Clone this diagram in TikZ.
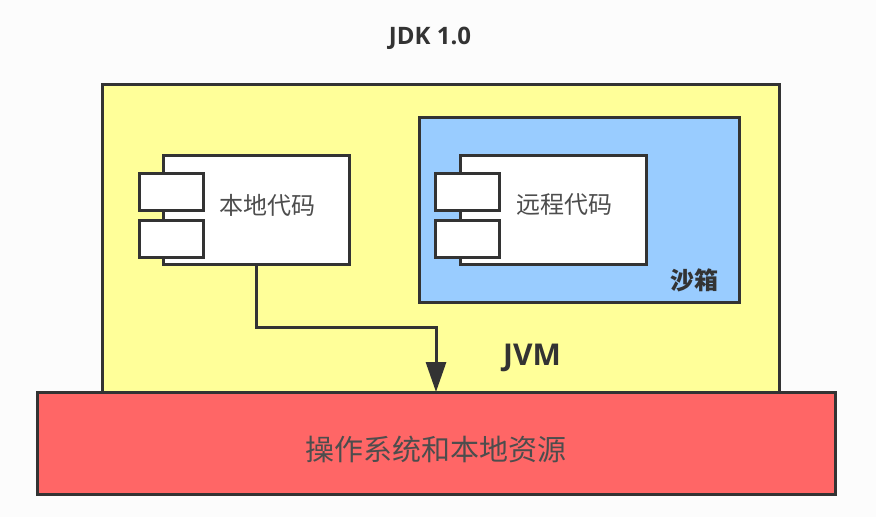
\documentclass[tikz,border=0pt]{standalone}
\usepackage{xcolor}
\usepackage{fontspec}
\usetikzlibrary{arrows.meta,positioning}
\setmainfont{Open Sans}
\newfontfamily\cjk{Noto Sans CJK SC}
\definecolor{jvmyellow}{HTML}{FFFF99}
\definecolor{sandblue}{HTML}{99CCFF}
\definecolor{osred}{HTML}{FF6666}
\definecolor{inkgray}{HTML}{333333}
\definecolor{labelgray}{HTML}{4D4D4D}
\tikzset{
    box/.style={draw=inkgray, rectangle, line width=3pt, outer sep=0pt, inner sep=0pt},
    code/.style={box, fill=white, minimum width=186pt, minimum height=109pt},
    tab/.style={box, fill=white, minimum width=64pt, minimum height=37pt},
    title/.style={inkgray, font=\fontsize{24}{24}\selectfont\bfseries}
}

\begin{document}
\begin{tikzpicture}[x=1pt, y=-1pt, node distance=10pt]
    \fill[white!99!black] (0,0) rectangle (876,517);
    \useasboundingbox (0,0) rectangle (876,517);

    % Nodes
    \node (jdk) [title] at (430,38) {JDK 1.0};
    \node (jvm) [box, fill=jvmyellow, minimum width=677pt, minimum height=308pt] at (440.5,238) {};
    \node (sandbox) [box, fill=sandblue, minimum width=320pt, minimum height=185pt] at (579,209.5) {};
    \node (localcode) [code] at (256,209.5) {};
    \node (localtaba) [tab] at (171,191.5) {};
    \node (localtabb) [tab, below=10pt of localtaba] {};
    \node (remotecode) [code] at (553,209.5) {};
    \node (remotetaba) [tab] at (467.5,191.5) {};
    \node (remotetabb) [tab, below=10pt of remotetaba] {};
    \node (locallabel) [text=labelgray, font=\cjk\fontsize{24}{24}\selectfont] at (267,205) {本地代码};
    \node (remotelabel) [text=labelgray, font=\cjk\fontsize{24}{24}\selectfont] at (564,205) {远程代码};
    \node (sandlabel) [inkgray, font=\cjk\fontsize{24}{24}\selectfont\bfseries] at (694,280) {沙箱};
    \node (jvmlabel) [inkgray, font=\fontsize{30}{30}\selectfont\bfseries] at (532,358) {JVM};
    \node (os) [box, fill=osred, minimum width=798pt, minimum height=102pt] at (436,443) {};
    \node (oslabel) [text=labelgray, font=\cjk\fontsize{29}{29}\selectfont] at (436,449) {操作系统和本地资源};

    % Arrows
    \coordinate (turn) at (436,327);
    \draw[line width=3pt, inkgray, -{Triangle[length=30pt,width=20pt]}] (localcode.south) |- (turn) -- (os.north);
\end{tikzpicture}
\end{document}
